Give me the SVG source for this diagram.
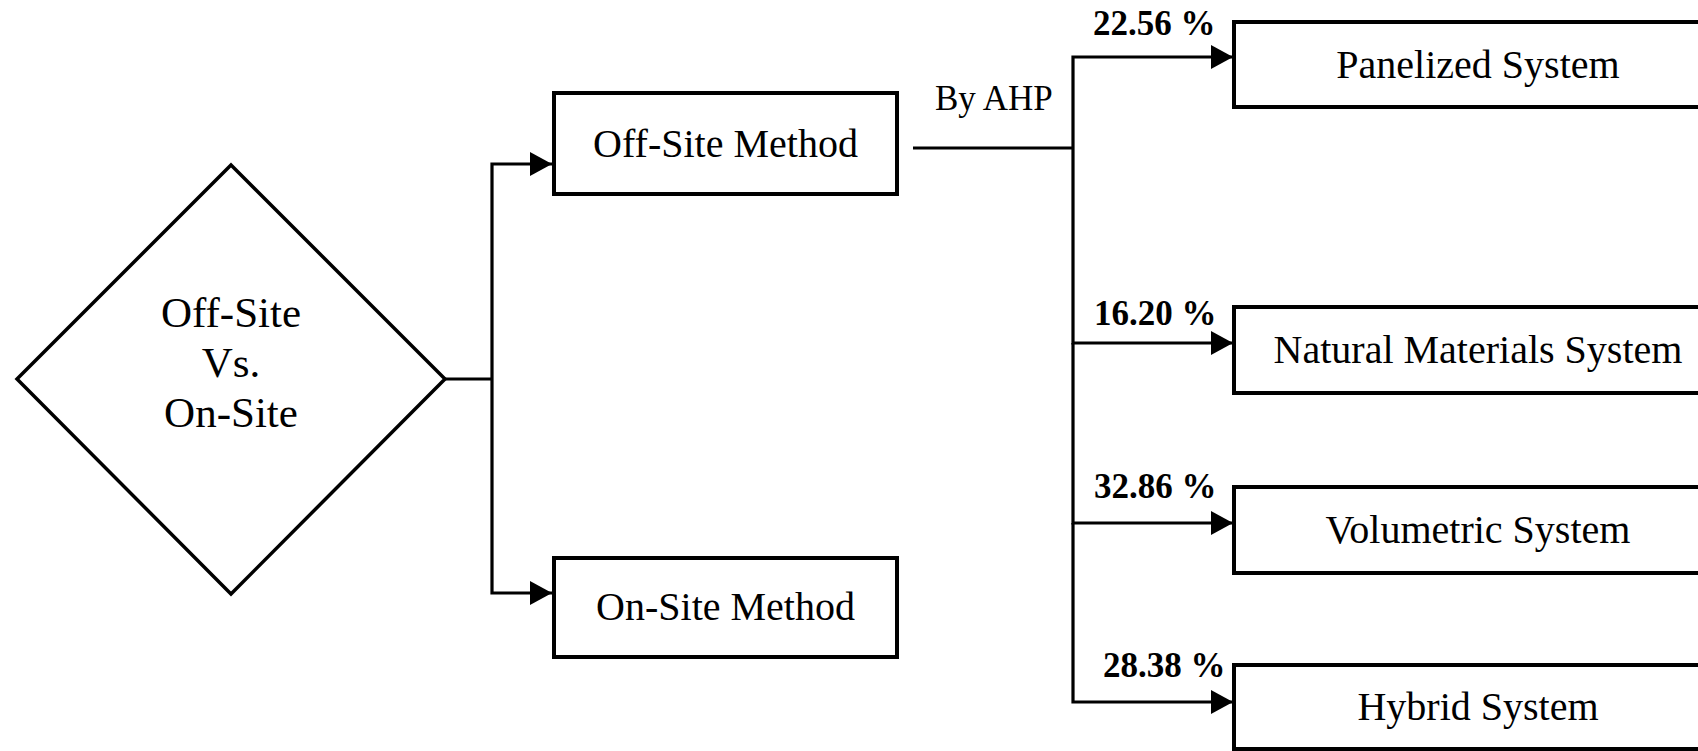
<svg xmlns="http://www.w3.org/2000/svg" width="1698" height="751" viewBox="0 0 1698 751">
  <defs>
    <marker id="arrow" markerUnits="userSpaceOnUse" markerWidth="22" markerHeight="24" refX="22" refY="12" orient="auto">
      <path d="M0,0 L22,12 L0,24 z" fill="#000"/>
    </marker>
    <style>
      .box { fill: #fff; stroke: #000; stroke-width: 4; }
      .conn { fill: none; stroke: #000; stroke-width: 3.2; }
      .lbl { font-family: "Liberation Serif", "Times New Roman", serif; font-size: 40px; fill: #000; text-anchor: middle; }
      .dlbl { font-family: "Liberation Serif", "Times New Roman", serif; font-size: 43px; fill: #000; text-anchor: middle; }
      .pct { font-family: "Liberation Serif", "Times New Roman", serif; font-size: 35px; font-weight: bold; fill: #000; }
      .ahp { font-family: "Liberation Serif", "Times New Roman", serif; font-size: 35px; fill: #000; }
    </style>
  </defs>
  <rect width="1698" height="751" fill="#fff"/>

  <g id="connectors">
    <path class="conn" d="M445,379 H492"/>
    <path class="conn" d="M492,379 V164 H552" marker-end="url(#arrow)"/>
    <path class="conn" d="M492,379 V593 H552" marker-end="url(#arrow)"/>
    <path class="conn" d="M913,148 H1073"/>
    <path class="conn" d="M1073,148 V57 H1233" marker-end="url(#arrow)"/>
    <path class="conn" d="M1073,148 V343 H1233" marker-end="url(#arrow)"/>
    <path class="conn" d="M1073,343 V523 H1233" marker-end="url(#arrow)"/>
    <path class="conn" d="M1073,523 V702 H1233" marker-end="url(#arrow)"/>
    <text class="ahp" x="935" y="110">By AHP</text>
    <text class="pct" x="1093" y="35">22.56 %</text>
    <text class="pct" x="1094" y="325">16.20 %</text>
    <text class="pct" x="1094" y="498">32.86 %</text>
    <text class="pct" x="1103" y="677">28.38 %</text>
  </g>

  <g id="decision">
    <path class="box" d="M231,165 L445,379 L231,594 L17,379 Z" style="stroke-width:3.5"/>
    <text class="dlbl" x="231" y="327">Off-Site</text>
    <text class="dlbl" x="231" y="377">Vs.</text>
    <text class="dlbl" x="231" y="427">On-Site</text>
  </g>

  <g id="offsite">
    <rect class="box" x="554" y="93" width="343" height="101"/>
    <text class="lbl" x="725.5" y="157">Off-Site Method</text>
  </g>

  <g id="onsite">
    <rect class="box" x="554" y="558" width="343" height="99"/>
    <text class="lbl" x="725.5" y="620">On-Site Method</text>
  </g>

  <g id="panelized">
    <rect class="box" x="1234" y="22" width="488" height="85"/>
    <text class="lbl" x="1478" y="78">Panelized System</text>
  </g>

  <g id="natural">
    <rect class="box" x="1234" y="307" width="488" height="86"/>
    <text class="lbl" x="1478" y="363">Natural Materials System</text>
  </g>

  <g id="volumetric">
    <rect class="box" x="1234" y="487" width="488" height="86"/>
    <text class="lbl" x="1478" y="543">Volumetric System</text>
  </g>

  <g id="hybrid">
    <rect class="box" x="1234" y="665" width="488" height="84"/>
    <text class="lbl" x="1478" y="720">Hybrid System</text>
  </g>
</svg>
